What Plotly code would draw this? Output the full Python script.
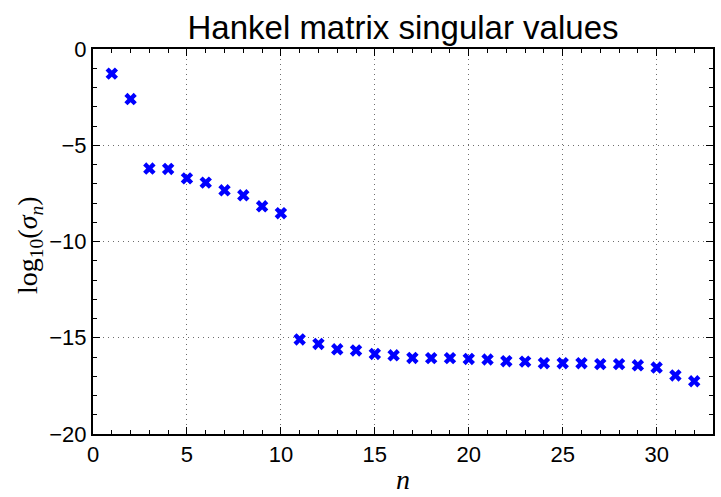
import plotly.graph_objects as go

n_values = list(range(1, 33))
log_sigma = [-1.28, -2.60, -6.21, -6.23, -6.72, -6.94, -7.34, -7.60, -8.17, -8.53,
             -15.09, -15.32, -15.60, -15.66, -15.84, -15.91, -16.05, -16.06, -16.06, -16.10,
             -16.13, -16.22, -16.24, -16.32, -16.32, -16.32, -16.37, -16.37, -16.43, -16.55,
             -16.96, -17.26]

x_ticks = [0, 5, 10, 15, 20, 25, 30]
y_ticks = [0, -5, -10, -15, -20]
y_tick_text = ["0", "\u22125", "\u221210", "\u221215", "\u221220"]

fig = go.Figure()
fig.add_trace(go.Scatter(
    x=n_values, y=log_sigma, mode="markers",
    marker=dict(symbol="x", size=11, color="#0000ff", line=dict(width=0)),
    showlegend=False,
))

axis_common = dict(
    showline=True, linecolor="black", linewidth=2, mirror="ticks",
    ticks="inside", ticklen=7, tickwidth=1, tickcolor="black",
    showgrid=True, gridcolor="#6e6e6e", gridwidth=1, griddash="1px,4px",
    zeroline=False, automargin=False,
    tickfont=dict(family="Liberation Sans, Arial, sans-serif", size=22, color="black"),
    minor=dict(dtick=1, ticks="inside", ticklen=4, tickwidth=1, tickcolor="black", showgrid=False),
)

fig.update_xaxes(range=[0, 33], tickvals=x_ticks, ticktext=[str(v) for v in x_ticks], **axis_common)
fig.update_yaxes(range=[-20, 0], tickvals=y_ticks, ticktext=y_tick_text, **axis_common)

plot_l, plot_r, plot_t, plot_b = 93, 713, 49, 434
pw, ph = plot_r - plot_l, plot_b - plot_t

fig.add_annotation(text="<i>n</i>", xref="paper", yref="paper",
                   x=0.5, y=-(479 - plot_b) / ph, xanchor="center", yanchor="middle",
                   showarrow=False,
                   font=dict(family="Liberation Serif, Times New Roman, serif", size=28, color="black"))
fig.add_annotation(text="log<sub>10</sub>(<i>σ<sub>n</sub></i>)", xref="paper", yref="paper",
                   x=-(plot_l - 30) / pw, y=(plot_b - 245) / ph, xanchor="center", yanchor="middle",
                   textangle=-90, showarrow=False,
                   font=dict(family="Liberation Serif, Times New Roman, serif", size=28, color="black"))

fig.update_layout(
    width=721, height=497,
    margin=dict(l=plot_l, r=721 - plot_r, t=plot_t, b=497 - plot_b),
    paper_bgcolor="white", plot_bgcolor="white",
    title=dict(text="Hankel matrix singular values", x=0.5, xanchor="center", xref="paper",
               y=1 - 27 / 497, yref="container", yanchor="middle",
               font=dict(family="Liberation Sans, Arial, sans-serif", size=33, color="black")),
)

fig.write_html("out.html")
